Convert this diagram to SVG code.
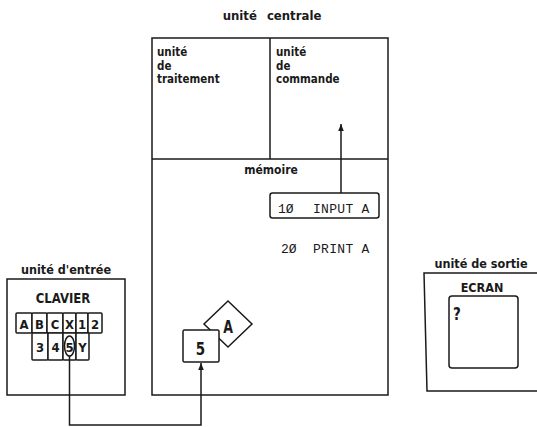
<svg xmlns="http://www.w3.org/2000/svg" width="537" height="427" viewBox="0 0 537 427">
<style>
.ln{fill:none;stroke:#1a1a1a;stroke-width:1.5}
.bx{fill:#fff;stroke:#1a1a1a;stroke-width:1.5}
.t{font-family:"DejaVu Sans Condensed","Liberation Sans Narrow","Liberation Sans",sans-serif;font-weight:bold;fill:#1a1a1a;font-stretch:condensed}
.m{font-family:"Liberation Mono","DejaVu Sans Mono",monospace;fill:#1a1a1a;font-size:13px}
.k{font-family:"DejaVu Sans Condensed","Liberation Sans Narrow","Liberation Sans",sans-serif;font-weight:bold;fill:#1a1a1a;font-size:13px;text-anchor:middle}
</style>
<defs>
<marker id="ah" viewBox="0 0 10 10" refX="10" refY="5" markerWidth="7" markerHeight="9" orient="auto" markerUnits="userSpaceOnUse">
<path d="M0,1 L10,5 L0,9 Z" fill="#1a1a1a"/>
</marker>
</defs>
<rect width="537" height="427" fill="#fff"/>

<g id="unite-centrale">
<text class="t" x="272" y="20" font-size="13" text-anchor="middle" word-spacing="6">unité centrale</text>
<rect class="bx" x="152" y="38" width="236" height="357"/>
<line class="ln" x1="270" y1="38" x2="270" y2="159"/>
<line class="ln" x1="152" y1="159" x2="388" y2="159"/>
</g>

<g id="unite-traitement">
<text class="t" font-size="11.5"><tspan x="157" y="56">unité</tspan><tspan x="157" y="69.5">de</tspan><tspan x="157" y="83">traitement</tspan></text>
</g>

<g id="unite-commande">
<text class="t" font-size="11.5"><tspan x="276" y="56">unité</tspan><tspan x="276" y="69.5">de</tspan><tspan x="276" y="83">commande</tspan></text>
</g>

<g id="memoire">
<text class="t" x="271" y="174" font-size="12" text-anchor="middle">mémoire</text>
<rect class="bx" x="270" y="193" width="109" height="25" rx="2.5"/>
<text class="m" x="278" y="213">1Ø</text>
<text class="m" x="313" y="213" letter-spacing="0.3">INPUT A</text>
<text class="m" x="281" y="253">2Ø</text>
<text class="m" x="313" y="253" letter-spacing="0.3">PRINT A</text>
</g>

<g id="variable-A">
<path class="bx" d="M228,301 L252,324 L228,347 L204,324 Z"/>
<text class="t" font-size="14" text-anchor="middle" transform="translate(228,333) scale(1,1.3)">A</text>
</g>

<g id="valeur-5">
<rect class="bx" x="183" y="330" width="36" height="32" rx="1.5"/>
<text class="t" font-size="15" text-anchor="middle" transform="translate(200.5,355) scale(1,1.2)">5</text>
</g>

<g id="unite-entree">
<text class="t" x="66" y="274" font-size="12.5" text-anchor="middle">unité d'entrée</text>
<rect class="bx" x="7" y="279" width="118" height="116"/>
<text class="t" font-size="13" text-anchor="middle" transform="translate(63,303) scale(1,1.1)">CLAVIER</text>
<g id="clavier">
<rect class="bx" x="16" y="313" width="16" height="20" rx="1"/>
<rect class="bx" x="32" y="313" width="15" height="20" rx="1"/>
<rect class="bx" x="47" y="313" width="16" height="20" rx="1"/>
<rect class="bx" x="63" y="313" width="13" height="20" rx="1"/>
<rect class="bx" x="76" y="313" width="12" height="20" rx="1"/>
<rect class="bx" x="88" y="313" width="14" height="20" rx="1"/>
<rect class="bx" x="32" y="333" width="16" height="27" rx="1"/>
<rect class="bx" x="48" y="333" width="15" height="27" rx="1"/>
<rect class="bx" x="63" y="333" width="13" height="27" rx="1"/>
<rect class="bx" x="76" y="333" width="13" height="27" rx="1"/>
<text class="k" x="24" y="329">A</text>
<text class="k" x="39.5" y="329">B</text>
<text class="k" x="55" y="329">C</text>
<text class="k" x="69.5" y="329">X</text>
<text class="k" x="82" y="329">1</text>
<text class="k" x="95" y="329">2</text>
<text class="k" x="40" y="352">3</text>
<text class="k" x="55.5" y="352">4</text>
<text class="k" x="69.5" y="352">5</text>
<text class="k" x="82.5" y="352">Y</text>
<ellipse class="ln" cx="69.5" cy="346" rx="5" ry="10" stroke-width="1"/>
</g>
</g>

<g id="unite-sortie">
<text class="t" x="481" y="268" font-size="12.5" text-anchor="middle">unité de sortie</text>
<path class="ln" d="M537,273 L424,273 L427,391 L537,391"/>
<text class="t" x="482" y="292" font-size="12.5" text-anchor="middle">ECRAN</text>
<rect class="bx" x="449" y="296" width="69" height="72" rx="3"/>
<text class="t" font-size="15" text-anchor="middle" transform="translate(457,320) scale(1,1.2)">?</text>
</g>

<g id="connecteurs">
<line class="ln" x1="341" y1="193" x2="341" y2="124" marker-end="url(#ah)"/>
<path class="ln" d="M69.5,356 L69.5,425 L201,425 L201,363" marker-end="url(#ah)"/>
</g>
</svg>
